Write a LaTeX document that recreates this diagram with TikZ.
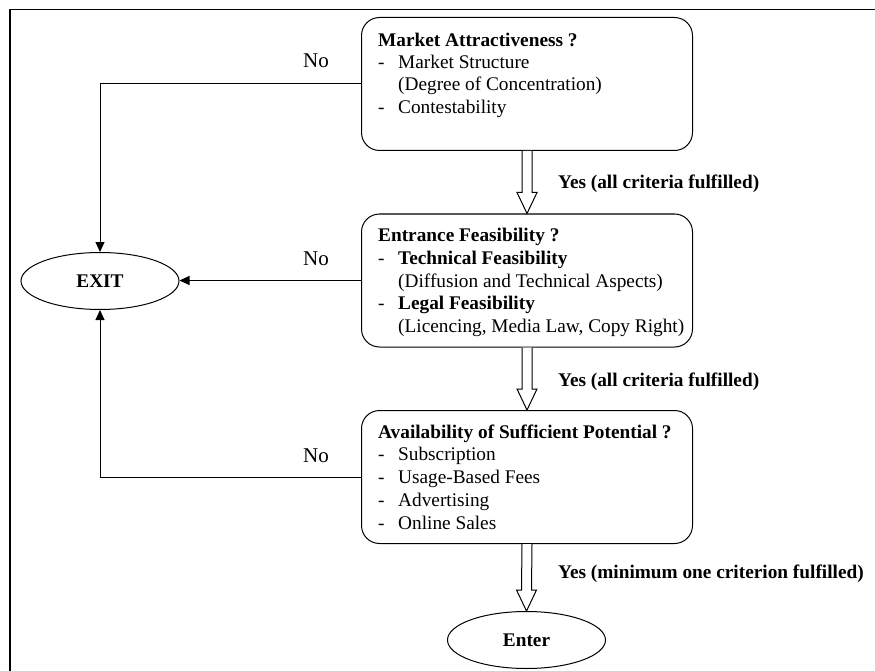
\documentclass[tikz,border=0pt]{standalone}
\usepackage{fontspec}
\setmainfont{Liberation Serif}
\usetikzlibrary{arrows.meta,calc,shapes.geometric}
\newcommand{\dashitem}{\makebox[20pt][l]{-}}
\newcommand{\contitem}{\hspace*{20pt}}
\newcommand{\blockarrow}[2]{%
  \draw[hollow] ($(#1.south)+(-5,0)$) -- ($(#2.north)+(-5,-21)$) -- ($(#2.north)+(-10,-21)$)
    -- (#2.north) -- ($(#2.north)+(10,-21)$) -- ($(#2.north)+(5,-21)$) -- ($(#1.south)+(5,0)$);}
\begin{document}
\begin{tikzpicture}[x=1pt,y=-1pt,
  box/.style={draw, line width=1pt, rounded corners=18pt, minimum width=331pt, minimum height=133pt, inner sep=0pt, anchor=north west},
  boxtext/.style={anchor=base west, inner sep=0pt},
  term/.style={draw, ellipse, line width=1pt, minimum width=158pt, minimum height=57pt, inner sep=0pt, font=\fontsize{19.3}{22}\selectfont\bfseries},
  conn/.style={line width=1pt, -{Triangle[length=10pt,width=9pt]}},
  nolabel/.style={font=\fontsize{21}{24}\selectfont, anchor=base, inner sep=0pt},
  yeslabel/.style={font=\fontsize{19.3}{22}\selectfont\bfseries, anchor=base west, inner sep=0pt},
  hollow/.style={draw, line width=1pt, fill=white, line join=miter}
]
\useasboundingbox (0,0) rectangle (875,671);
\draw[line width=1.3pt] (10,671) -- (10,9.5) -- (875,9.5);

\node[box] (b1) at (361,17) {};
\node[box] (b2) at (361,213.5) {};
\node[box] (b3) at (361,410) {};
\node[term] (exit) at (100,281) {EXIT};
\node[term] (enter) at (526.5,640) {Enter};

\node[boxtext, font=\fontsize{19.3}{22.2}\selectfont] (t1) at (378,46.5) {\begin{tabular}[t]{@{}l@{}}
\textbf{Market Attractiveness ?}\\
\dashitem Market Structure\\
\contitem (Degree of Concentration)\\
\dashitem Contestability
\end{tabular}};

\node[boxtext, font=\fontsize{19.3}{22.8}\selectfont] (t2) at (378,241.5) {\begin{tabular}[t]{@{}l@{}}
\textbf{Entrance Feasibility ?}\\
\dashitem\textbf{Technical Feasibility}\\
\contitem (Diffusion and Technical Aspects)\\
\dashitem\textbf{Legal Feasibility}\\
\contitem (Licencing, Media Law, Copy Right)
\end{tabular}};

\node[boxtext, font=\fontsize{19.3}{22.8}\selectfont] (t3) at (378,438) {\begin{tabular}[t]{@{}l@{}}
\textbf{Availability of Sufficient Potential ?}\\
\dashitem Subscription\\
\dashitem Usage-Based Fees\\
\dashitem Advertising\\
\dashitem Online Sales
\end{tabular}};

\draw[conn] (b1.west) -- (exit.north |- b1.west) -- (exit.north);
\draw[conn] (b2.west) -- (b2.west -| exit.east);
\draw[conn] (b3.west) -- (exit.south |- b3.west) -- (exit.south);

\node[nolabel] (no1) at (316,68) {No};
\node[nolabel] (no2) at (316,265.5) {No};
\node[nolabel] (no3) at (316,462) {No};

\blockarrow{b1}{b2}
\blockarrow{b2}{b3}
\blockarrow{b3}{enter}

\node[yeslabel] (yes1) at (558,189) {Yes (all criteria fulfilled)};
\node[yeslabel] (yes2) at (558,386) {Yes (all criteria fulfilled)};
\node[yeslabel] (yes3) at (558,578) {Yes (minimum one criterion fulfilled)};
\end{tikzpicture}
\end{document}
